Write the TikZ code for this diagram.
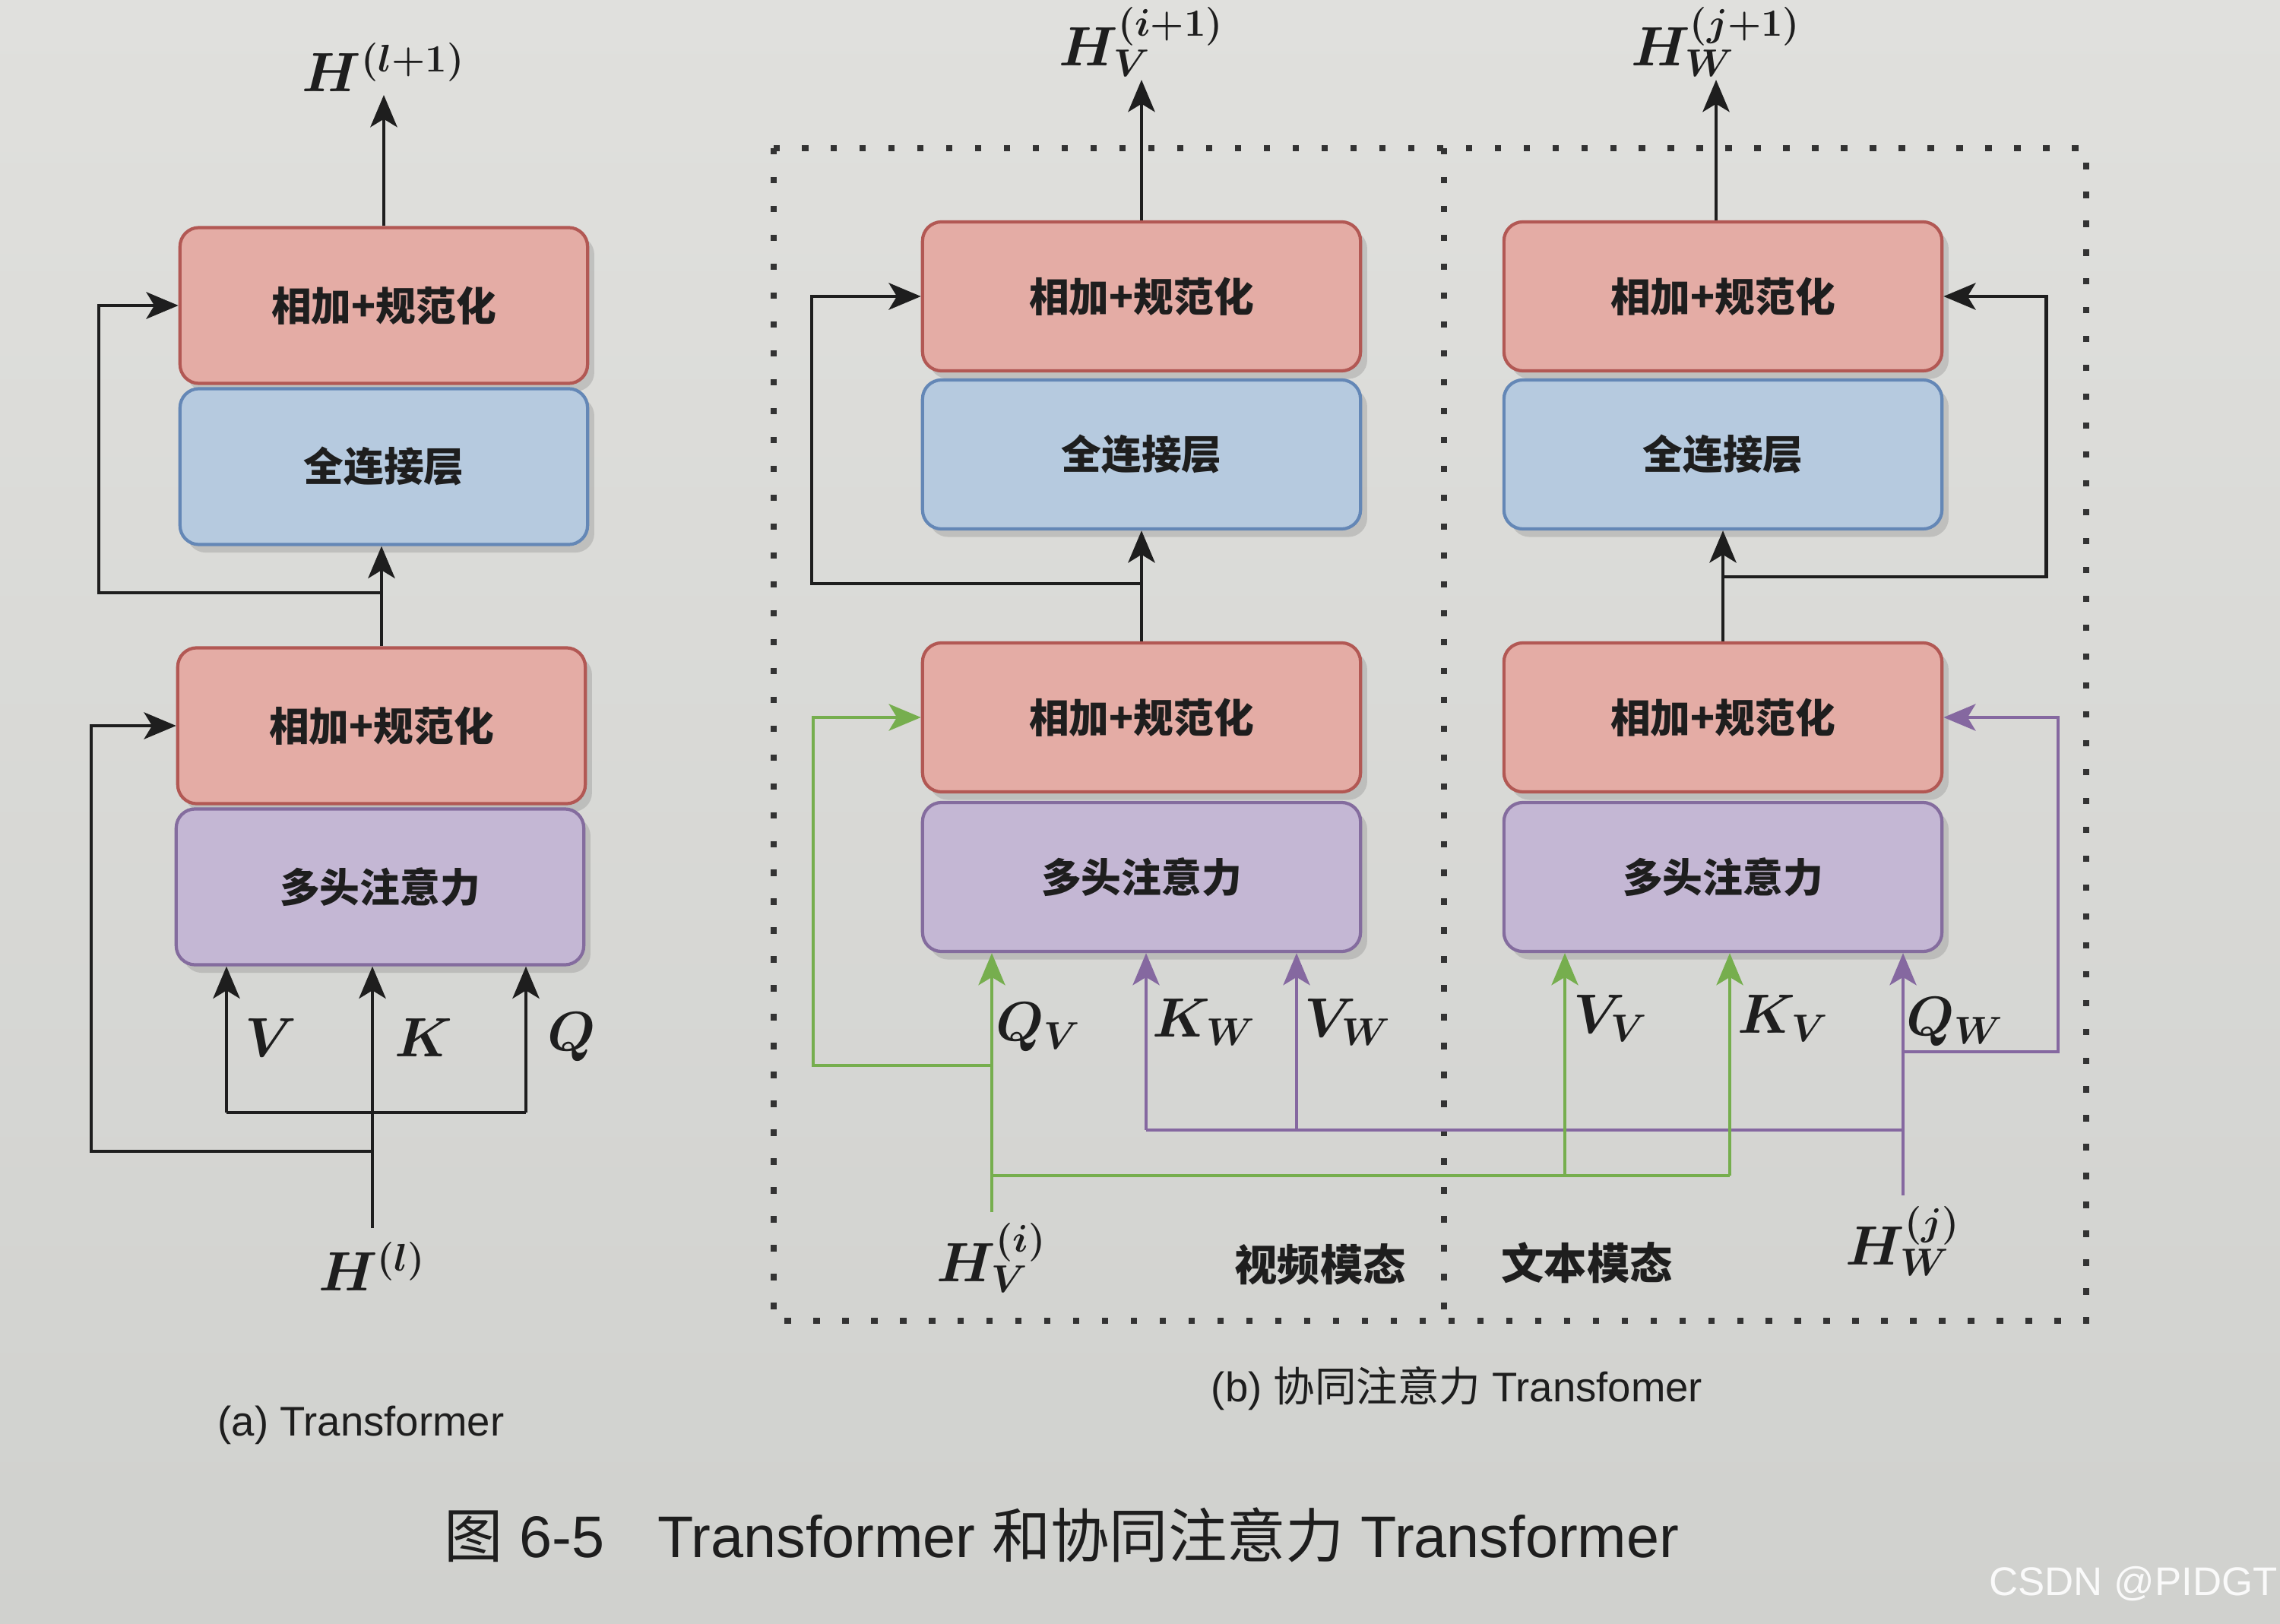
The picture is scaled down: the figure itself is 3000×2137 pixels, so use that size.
\documentclass[tikz,border=0pt]{standalone}
\usepackage{fontspec}
\setmainfont{Liberation Sans}
\newfontfamily\cjk{Noto Sans CJK SC}
\usetikzlibrary{arrows.meta,shadows}
\definecolor{bgtop}{RGB}{224,224,221}
\definecolor{bgbot}{RGB}{208,209,206}
\definecolor{redf}{RGB}{228,172,165}
\definecolor{redd}{RGB}{178,88,84}
\definecolor{bluef}{RGB}{182,202,223}
\definecolor{blued}{RGB}{100,135,182}
\definecolor{purpf}{RGB}{196,183,212}
\definecolor{purpd}{RGB}{132,108,158}
\definecolor{greenc}{RGB}{118,174,78}
\definecolor{purpc}{RGB}{133,104,160}
\definecolor{inkc}{RGB}{30,30,30}
\tikzset{
  box/.style={draw, rounded corners=0.25cm, line width=1.2pt, text=inkc,
    font=\cjk\bfseries\fontsize{15}{18}\selectfont,
    drop shadow={shadow xshift=2.5pt,shadow yshift=-3pt,opacity=0.3}},
  boxa/.style={box, minimum width=5.36cm, minimum height=2.05cm},
  boxb/.style={box, minimum width=5.76cm, minimum height=1.96cm},
  addnorm/.style={fill=redf, draw=redd},
  fcbox/.style={fill=bluef, draw=blued},
  mhabox/.style={fill=purpf, draw=purpd},
  tip/.style={-{Stealth[length=12pt,width=10pt,inset=3pt]}},
  conn/.style={line width=1.4pt, draw=inkc},
  arr/.style={conn, tip},
  gconn/.style={line width=1.1pt, draw=greenc},
  garr/.style={gconn, tip},
  pconn/.style={line width=1.1pt, draw=purpc},
  parr/.style={pconn, tip},
  mlab/.style={text=inkc, font=\fontsize{19.5}{23}\selectfont\boldmath, inner sep=1pt},
  dotbox/.style={line width=2.4pt, dash pattern=on 2.4pt off 8.4pt, draw=black!80},
  modlab/.style={text=inkc, font=\cjk\bfseries\fontsize{16}{19}\selectfont},
  caplab/.style={text=inkc, font=\fontsize{15.5}{18}\selectfont}
}
\begin{document}
\begin{tikzpicture}[x=0.01cm,y=-0.01cm]
\useasboundingbox (0,0) rectangle (3000,2137);
\shade[top color=bgtop, bottom color=bgbot] (0,0) rectangle (3000,2137);

% ---------- (a) Transformer ----------
\node[boxa, addnorm] (a1) at (505,402) {相加+规范化};
\node[boxa, fcbox]   (a2) at (505,614) {全连接层};
\node[boxa, addnorm] (a3) at (502,955) {相加+规范化};
\node[boxa, mhabox]  (a4) at (500,1167) {多头注意力};

\coordinate (aout) at (505,125);
\draw[arr] (a1.north) -- (aout);
\node[mlab, anchor=south] (aoutl) at (aout) {$H^{(l+1)}$};

\draw[arr] (a3.north) -- (a3.north |- a2.south);
\coordinate (aj1) at (502,780);
\coordinate (aLx) at (130,0);
\draw[arr] (aj1) -- (aj1 -| aLx) |- (a1.west);

\coordinate (ain) at (490,1616);
\draw[arr] (ain) -- (ain |- a4.south);
\node[mlab, anchor=north] (ainl) at ([yshift=-4pt]ain) {$H^{(l)}$};
\coordinate (aj2) at (490,1515);
\coordinate (aLx2) at (120,0);
\draw[arr] (aj2) -- (aj2 -| aLx2) |- (a3.west);
\coordinate (aVb) at (298,1464);
\coordinate (aQb) at (692,1464);
\draw[conn] (aVb) -- (aQb);
\draw[arr] (aVb) -- (aVb |- a4.south);
\draw[arr] (aQb) -- (aQb |- a4.south);
\node[mlab, anchor=west] (aVl) at (318,1365) {$V$};
\node[mlab, anchor=west] (aKl) at (515,1365) {$K$};
\node[mlab, anchor=west] (aQl) at (716,1365) {$Q$};

\node[caplab] (capa) at (475,1875) {(a) Transformer};

% ---------- (b) co-attention ----------
\draw[dotbox] (1018,195) rectangle (2745,1738);
\draw[dotbox] (1900,195) -- (1900,1738);

\node[boxb, addnorm] (b1) at (1502,390) {相加+规范化};
\node[boxb, fcbox]   (b2) at (1502,598) {全连接层};
\node[boxb, addnorm] (b3) at (1502,944) {相加+规范化};
\node[boxb, mhabox]  (b4) at (1502,1154) {多头注意力};

\node[boxb, addnorm] (c1) at (2267,390) {相加+规范化};
\node[boxb, fcbox]   (c2) at (2267,598) {全连接层};
\node[boxb, addnorm] (c3) at (2267,944) {相加+规范化};
\node[boxb, mhabox]  (c4) at (2267,1154) {多头注意力};

% video column black
\coordinate (bout) at (1502,105);
\draw[arr] (b1.north) -- (bout);
\node[mlab, anchor=south] (boutl) at (bout) {$H_V^{(i+1)}$};
\draw[arr] (b3.north) -- (b2.south);
\coordinate (bj1) at (1502,768);
\coordinate (bLx) at (1068,0);
\draw[arr] (bj1) -- (bj1 -| bLx) |- (b1.west);

% text column black
\coordinate (cout) at (2258,105);
\draw[arr] (c1.north -| cout) -- (cout);
\node[mlab, anchor=south] (coutl) at (cout) {$H_W^{(j+1)}$};
\draw[arr] (c3.north) -- (c2.south);
\coordinate (cj1) at (2267,759);
\coordinate (cRx) at (2692,0);
\draw[arr] (cj1) -- (cj1 -| cRx) |- (c1.east);

% purple (text input)
\coordinate (cin) at (2504,1573);
\draw[parr] (cin) -- (cin |- c4.south);
\node[mlab, anchor=north] (cinl) at ([yshift=-3pt]cin) {$H_W^{(j)}$};
\coordinate (pj1) at (2504,1384);
\coordinate (pRx) at (2708,0);
\draw[parr] (pj1) -- (pj1 -| pRx) |- (c3.east);
\coordinate (pj2) at (2504,1487);
\coordinate (pK) at (1508,1487);
\coordinate (pV) at (1706,1487);
\draw[pconn] (pj2) -- (pK);
\draw[parr] (pK) -- (pK |- b4.south);
\draw[parr] (pV) -- (pV |- b4.south);

% green (video input)
\coordinate (bin) at (1305,1595);
\draw[garr] (bin) -- (bin |- b4.south);
\node[mlab, anchor=north] (binl) at ([yshift=-3pt]bin) {$H_V^{(i)}$};
\coordinate (gj1) at (1305,1402);
\coordinate (gLx) at (1070,0);
\draw[garr] (gj1) -- (gj1 -| gLx) |- (b3.west);
\coordinate (gj2) at (1305,1547);
\coordinate (gV) at (2059,1547);
\coordinate (gK) at (2276,1547);
\draw[gconn] (gj2) -- (gK);
\draw[garr] (gV) -- (gV |- c4.south);
\draw[garr] (gK) -- (gK |- c4.south);

% input labels
\node[mlab, anchor=west] (lQV) at (1306,1352) {$Q_V$};
\node[mlab, anchor=west] (lKW) at (1512,1345) {$K_W$};
\node[mlab, anchor=west] (lVW) at (1712,1345) {$V_W$};
\node[mlab, anchor=west] (lVV) at (2066,1340) {$V_V$};
\node[mlab, anchor=west] (lKV) at (2282,1340) {$K_V$};
\node[mlab, anchor=west] (lQW) at (2504,1345) {$Q_W$};

\node[modlab] (vmod) at (1737,1664) {视频模态};
\node[modlab] (tmod) at (2088,1662) {文本模态};

\node[caplab] (capb) at (1917,1827) {(b) {\cjk 协同注意力} Transfomer};

% ---------- figure caption ----------
\node[text=inkc, font=\fontsize{22}{26}\selectfont] (cap) at (1397,2020)
  {{\cjk 图} 6-5\hspace{0.9em}Transformer {\cjk 和协同注意力} Transformer};

\node[text=white!96!gray, font=\fontsize{15}{18}\selectfont] (wm) at (2807,2084) {CSDN @PIDGT};
\end{tikzpicture}
\end{document}
